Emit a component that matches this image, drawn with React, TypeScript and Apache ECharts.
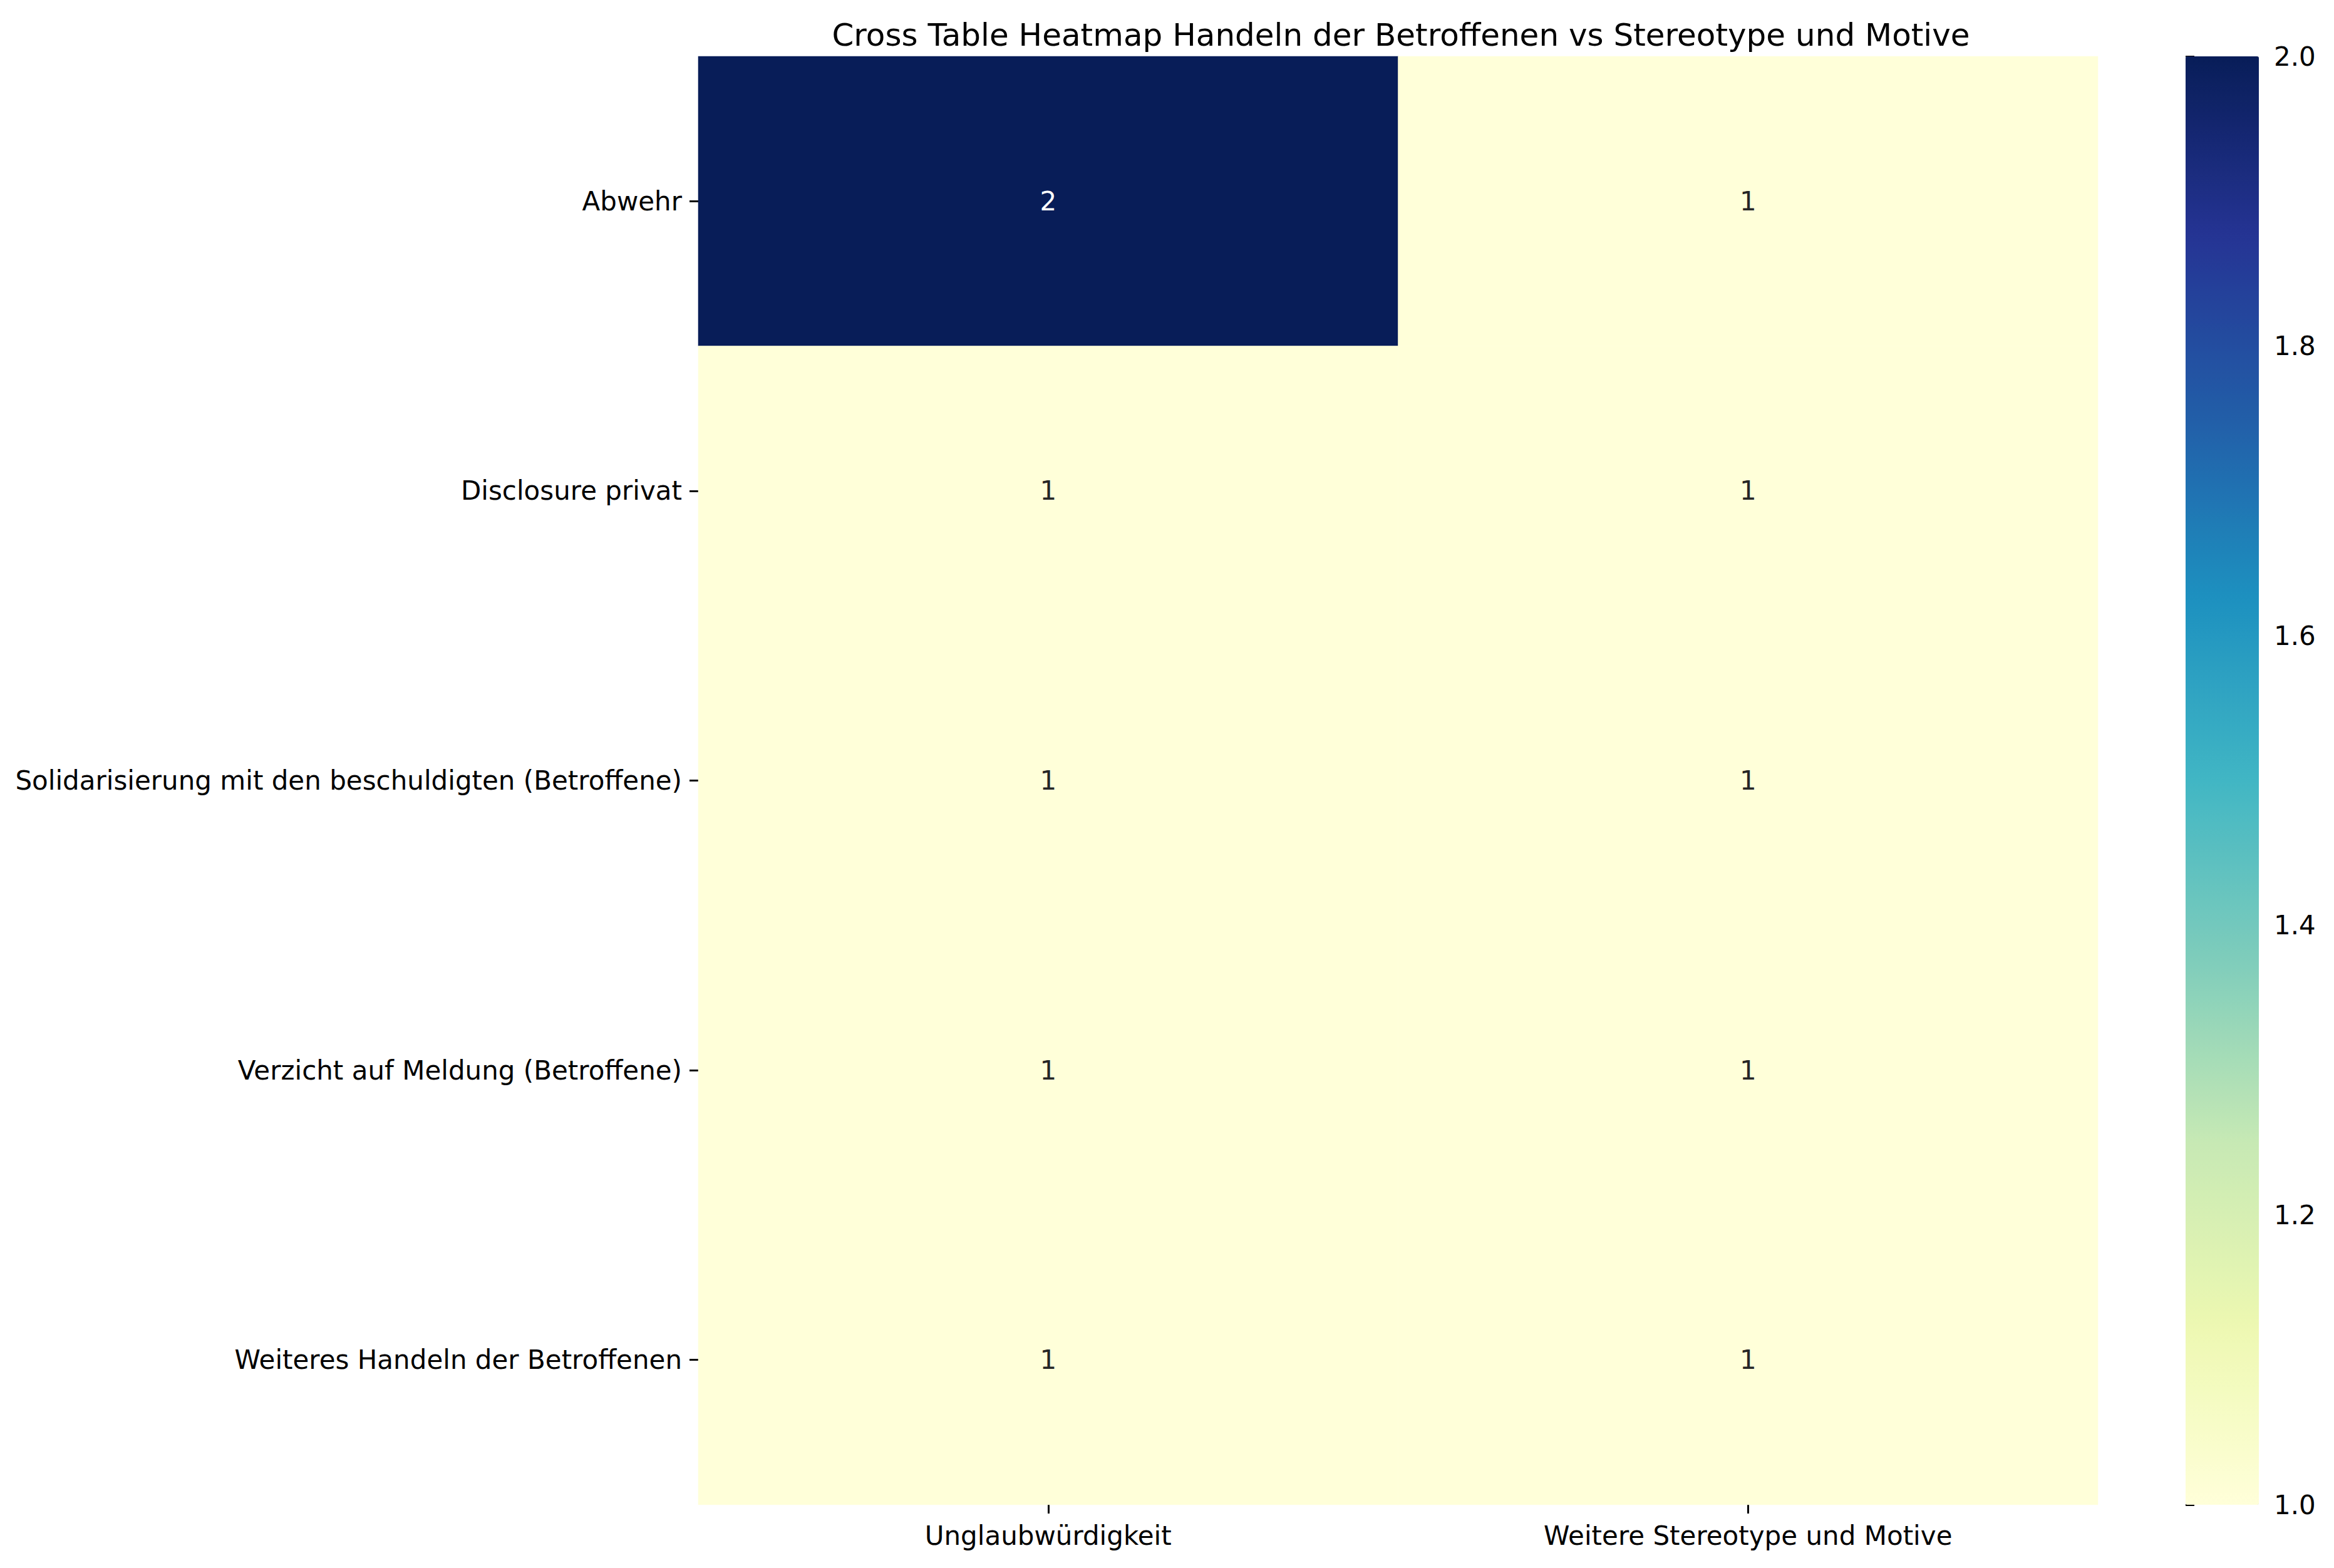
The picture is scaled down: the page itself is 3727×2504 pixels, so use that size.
import React from "react";
import * as echarts from "echarts";

const rowLabels = [
  "Abwehr",
  "Disclosure privat",
  "Solidarisierung mit den beschuldigten (Betroffene)",
  "Verzicht auf Meldung (Betroffene)",
  "Weiteres Handeln der Betroffenen",
];
const colLabels = ["Unglaubwürdigkeit", "Weitere Stereotype und Motive"];
const counts = [
  [2, 1],
  [1, 1],
  [1, 1],
  [1, 1],
  [1, 1],
];
const ylgnbu = ["#ffffd9", "#edf8b1", "#c7e9b4", "#7fcdbb", "#41b6c4", "#1d91c0", "#225ea8", "#253494", "#081d58"];

const FONT = "DejaVu Sans";

export default function App() {
  const ref = React.useRef<HTMLDivElement>(null);

  React.useEffect(() => {
    document.body.style.margin = "0";
    if (!ref.current) return;
    const chart = echarts.init(ref.current, undefined, { renderer: "svg" });
    const data: [number, number, number][] = [];
    counts.forEach((row, r) => row.forEach((v, c) => data.push([c, r, v])));

    const option: echarts.EChartsOption = {
      animation: false,
      backgroundColor: "#ffffff",
      textStyle: { fontFamily: FONT },
      title: {
        text: "Cross Table Heatmap Handeln der Betroffenen vs Stereotype und Motive",
        left: 2232,
        textAlign: "center",
        top: 26,
        textStyle: { fontFamily: FONT, fontSize: 50, fontWeight: "normal", color: "#000" },
      },
      grid: [
        { left: 1115, top: 90, width: 2235, height: 2313 },
        { left: 3490, top: 90, width: 117, height: 2313 },
      ],
      xAxis: [
        {
          type: "category",
          gridIndex: 0,
          data: colLabels,
          axisLine: { show: false },
          axisTick: { show: true, alignWithLabel: true, length: 14, lineStyle: { color: "#000", width: 3 } },
          axisLabel: { fontSize: 42, color: "#000", margin: 28, fontFamily: FONT },
          splitLine: { show: false },
        },
        { type: "value", gridIndex: 1, show: false },
      ],
      yAxis: [
        {
          type: "category",
          gridIndex: 0,
          inverse: true,
          data: rowLabels,
          axisLine: { show: false },
          axisTick: { show: true, alignWithLabel: true, length: 14, lineStyle: { color: "#000", width: 3 } },
          axisLabel: { fontSize: 42, color: "#000", margin: 26, fontFamily: FONT },
          splitLine: { show: false },
        },
        {
          type: "value",
          gridIndex: 1,
          position: "right",
          min: 1,
          max: 2,
          interval: 0.2,
          axisLine: { show: false },
          axisTick: { show: true, length: 14, lineStyle: { color: "#000", width: 3 } },
          axisLabel: { fontSize: 42, color: "#000", margin: 24, fontFamily: FONT, formatter: (v: number) => v.toFixed(1) },
          splitLine: { show: false },
        },
      ],
      visualMap: {
        type: "continuous",
        min: 1,
        max: 2,
        seriesIndex: 0,
        calculable: false,
        hoverLink: false,
        showLabel: false,
        text: ["", ""],
        left: 3490,
        top: 90,
        padding: 0,
        itemWidth: 117,
        itemHeight: 2313,
        inRange: { color: ylgnbu },
      },
      series: [
        {
          type: "heatmap",
          xAxisIndex: 0,
          yAxisIndex: 0,
          data,
          label: {
            show: true,
            fontSize: 42,
            fontFamily: FONT,
            formatter: (p: any) => String(p.value[2]),
            color: "#262626",
          },
          itemStyle: { borderWidth: 0 },
        },
      ],
    };
    // white text on dark cells
    (option.series as any)[0].data = data.map((d) => ({
      value: d,
      label: { color: d[2] >= 1.6 ? "#ffffff" : "#262626" },
    }));

    chart.setOption(option);
    return () => chart.dispose();
  }, []);

  return <div ref={ref} style={{ width: 3727, height: 2504 }} />;
}
